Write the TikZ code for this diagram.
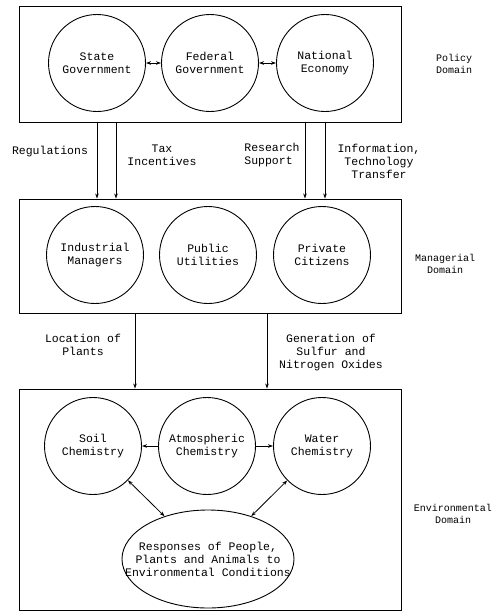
\documentclass[tikz,border=0pt]{standalone}
\usepackage{fontspec}
\setmonofont{Liberation Mono}
\usetikzlibrary{shapes.geometric,arrows.meta}
\begin{document}
\begin{tikzpicture}[x=1pt, y=-1pt, >={Stealth[length=5pt,width=3.5pt]}]
    \tikzset{lbl/.style={font=\ttfamily\fontsize{11.5}{13}\selectfont, align=center, inner sep=0pt},
             domlbl/.style={lbl, font=\ttfamily\fontsize{10}{12.5}\selectfont},
             dom/.style={draw, line width=0.9pt, minimum width=382pt, inner sep=0pt},
             blob/.style={lbl, draw, line width=0.9pt, circle, minimum size=97pt},
             flow/.style={->, line width=0.8pt}}
    \useasboundingbox (0,0) rectangle (494,613);
    % policy domain
    \node[dom, minimum height=116pt] (pol) at (210,64) {};
    \foreach \n/\x/\txt in {st/97/State\\Government, fed/210/Federal\\Government, eco/325/National\\Economy} {
      \node[blob] (\n) at (\x,63) {\txt};
    }
    \draw[<->, line width=0.8pt] (st) -- (fed);
    \draw[<->, line width=0.8pt] (fed) -- (eco);
    \node[domlbl, align=left] (poldom) at (454,64) {Policy\\Domain};
    % managerial domain
    \node[dom, minimum height=114pt] (man) at (210,256) {};
    \foreach \n/\x/\txt in {ind/95/Industrial\\Managers, pub/208/Public\\Utilities, pri/322/Private\\Citizens} {
      \node[blob] (\n) at (\x,255) {\txt};
    }
    \node[domlbl] (mandom) at (445,264) {Managerial\\Domain};
    % policy -> managerial
    \foreach \s in {-113,-94,95,115} {
      \draw[flow] ([xshift=\s pt]pol.south) -- ([xshift=\s pt]man.north);
    }
    \node[lbl] (reg) at (50,152) {Regulations};
    \node[lbl] (tax) at (162,155) {Tax\\Incentives};
    \node[lbl, align=left] (res) at (272,155) {Research\\Support};
    \node[lbl] (inf) at (379,161) {Information,\\Technology\\Transfer};
    % environmental domain
    \node[dom, minimum height=221pt] (env) at (210,499.5) {};
    \foreach \n/\x/\txt in {soil/93/Soil\\Chemistry, atm/207/Atmospheric\\Chemistry, wat/322/Water\\Chemistry} {
      \node[blob] (\n) at (\x,446) {\txt};
    }
    \node[lbl, draw, line width=0.9pt, ellipse, minimum width=172pt, minimum height=98pt,
          inner xsep=-30pt] (resp) at (208,559)
          {Responses of People,\\Plants and Animals to\\Environmental Conditions};
    \draw[flow] (atm) -- (soil);
    \draw[flow] (atm) -- (wat);
    \draw[<->, line width=0.8pt] (soil) -- (resp);
    \draw[<->, line width=0.8pt] (wat) -- (resp);
    \node[domlbl] (envdom) at (453,514) {Environmental\\Domain};
    % managerial -> environmental
    \foreach \s in {-75,57} {
      \draw[flow] ([xshift=\s pt]man.south) -- ([xshift=\s pt]env.north);
    }
    \node[lbl] (loc) at (83,345) {Location of\\Plants};
    \node[lbl] (gen) at (331,353) {Generation of\\Sulfur and\\Nitrogen Oxides};
\end{tikzpicture}
\end{document}
